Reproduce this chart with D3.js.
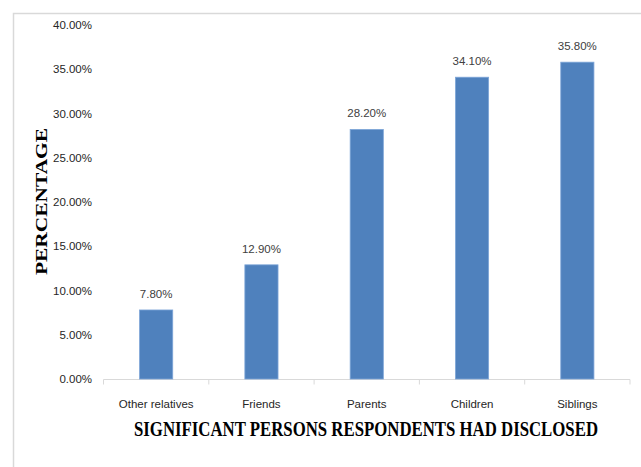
<!DOCTYPE html>
<html><head><meta charset="utf-8">
<script src="https://cdn.jsdelivr.net/npm/d3@7/dist/d3.min.js"></script>
<style>body{margin:0;background:#fff;}svg{display:block;}</style>
</head><body>
<svg id="c" width="641" height="467"></svg>
<script>
const categories = ["Other relatives","Friends","Parents","Children","Siblings"];
const values = [7.80, 12.90, 28.20, 34.10, 35.80];
const yTicks = [0,5,10,15,20,25,30,35,40];
const yTitle = "PERCENTAGE";
const xTitle = "SIGNIFICANT PERSONS RESPONDENTS HAD DISCLOSED";

const svg = d3.select("#c");
const sans = "'Liberation Sans Narrow','Arial Narrow','Liberation Sans',Arial,sans-serif";
const serif = "'Liberation Serif','Times New Roman',serif";
const fs = 11.5;

// chart border
svg.append("rect").attr("x",13.5).attr("y",13.5).attr("width",640).attr("height",470)
  .attr("fill","none").attr("stroke","#d9d9d9").attr("stroke-width",1.5);

const x = d3.scaleBand().domain(categories).range([103.5,630]).paddingInner(0.685).paddingOuter(0.3425);
const y = d3.scaleLinear().domain([0,40]).range([379,25]);

// x axis
const xAxis = svg.append("g").attr("transform","translate(0,379.5)");
xAxis.append("line").attr("x1",103.5).attr("x2",630).attr("stroke","#d9d9d9");
const bounds = d3.range(categories.length+1).map(i => 103.5 + i*(630-103.5)/categories.length);
xAxis.selectAll(".tk").data(bounds).join("line")
  .attr("x1",d=>d).attr("x2",d=>d).attr("y1",0).attr("y2",5).attr("stroke","#d9d9d9");
xAxis.selectAll(".lb").data(categories).join("text")
  .attr("x",d=>x(d)+x.bandwidth()/2).attr("y",28)
  .attr("text-anchor","middle").attr("font-family",sans).attr("font-size",fs)
  .attr("fill","#262626").text(d=>d);

// y axis labels
svg.selectAll(".yl").data(yTicks).join("text")
  .attr("x",92).attr("y",d=>y(d)+4)
  .attr("text-anchor","end").attr("font-family",sans).attr("font-size",fs)
  .attr("fill","#262626").text(d=>d.toFixed(2)+"%");

// bars
svg.selectAll(".bar").data(values).join("rect")
  .attr("x",(d,i)=>x(categories[i])).attr("width",x.bandwidth())
  .attr("y",d=>y(d)).attr("height",d=>y(0)-y(d))
  .attr("fill","#4f81bd").attr("stroke","#7ea6d8").attr("stroke-width",0.8);

// value labels
svg.selectAll(".vl").data(values).join("text")
  .attr("x",(d,i)=>x(categories[i])+x.bandwidth()/2).attr("y",d=>y(d)-12)
  .attr("text-anchor","middle").attr("font-family",sans).attr("font-size",fs)
  .attr("fill","#404040").text(d=>d.toFixed(2)+"%");

// titles
svg.append("text").attr("transform","translate(46.5,201.5) rotate(-90)")
  .attr("text-anchor","middle").attr("font-family",serif).attr("font-weight","bold")
  .attr("font-size",17).attr("fill","#000")
  .attr("textLength",147).attr("lengthAdjust","spacingAndGlyphs").text(yTitle);
svg.append("text").attr("transform","translate(366,436) scale(1,1.3)")
  .attr("text-anchor","middle").attr("font-family",serif).attr("font-weight","bold")
  .attr("font-size",16).attr("fill","#000")
  .attr("textLength",464).attr("lengthAdjust","spacingAndGlyphs").text(xTitle);
</script>
</body></html>
